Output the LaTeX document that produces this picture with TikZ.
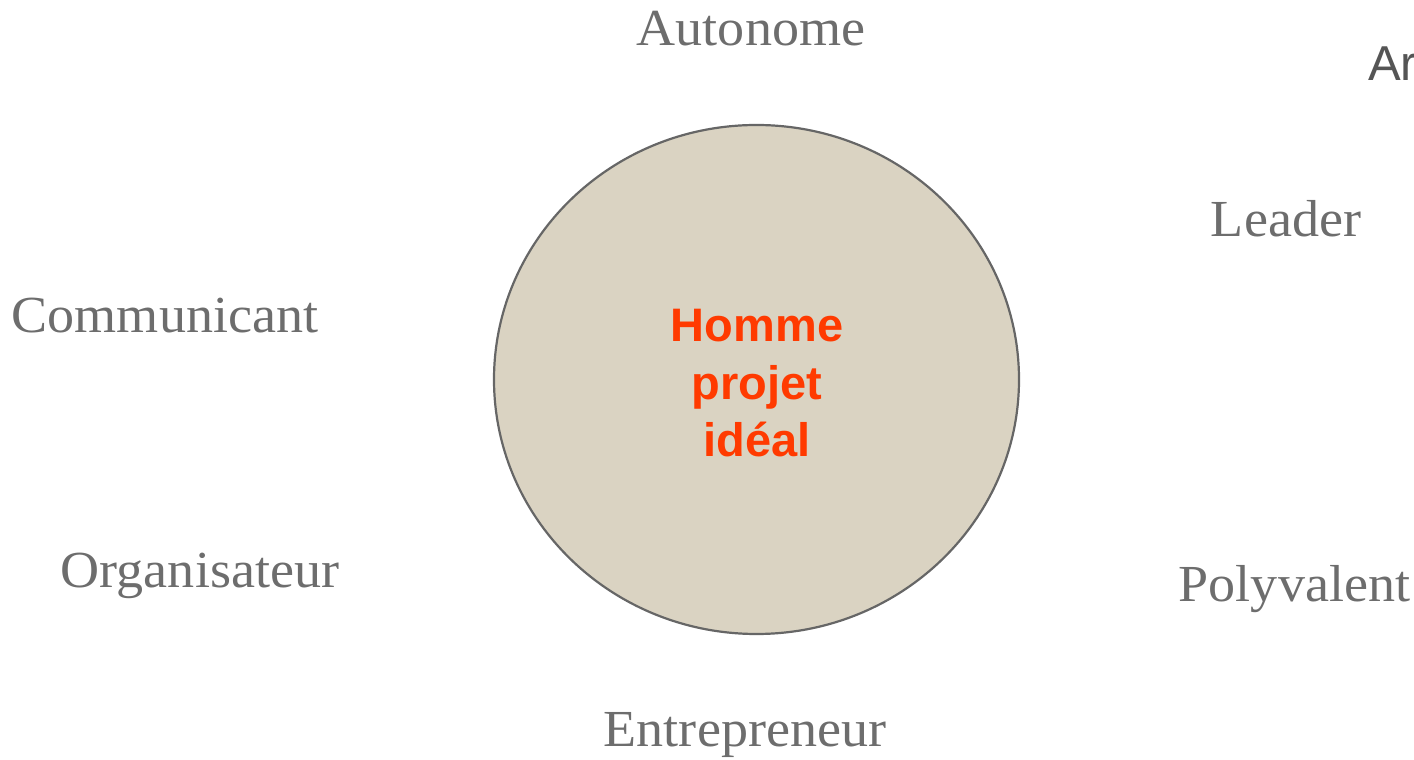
\documentclass[tikz,border=0pt]{standalone}
\usepackage{fontspec}
\setmainfont{Liberation Serif}
\newfontfamily\labelsans{Liberation Sans}
\definecolor{labelgray}{HTML}{6D6D6D}
\definecolor{sidegray}{HTML}{555555}
\definecolor{discfill}{HTML}{DAD3C2}
\definecolor{discline}{HTML}{666666}
\definecolor{corered}{HTML}{FF3A00}
% slightly wider setting of the serif labels
\newcommand{\widelabel}[1]{\scalebox{1.04}[1]{#1}}
\begin{document}
\begin{tikzpicture}[x=1pt,y=1pt,
  trait/.style={anchor=base, inner sep=0pt, text=labelgray,
    font=\fontsize{52}{60}\selectfont},
  coretext/.style={anchor=base, inner sep=0pt, align=center, text=corered,
    font=\labelsans\bfseries\fontsize{47}{57.5}\selectfont}]
\useasboundingbox (0,0) rectangle (1414,760);
% central disc
\draw[discline, line width=2.2pt, fill=discfill] (756.5,380.5) ellipse [x radius=262.5, y radius=254.5];
\node[coretext] (core) at (757,303) {Homme\\projet\\idéal};
% qualities around the disc
\node[trait] (autonome) at (751,714) {\widelabel{Autonome}};
\node[trait] (leader) at (1286,523) {\widelabel{Leader}};
\node[trait] (communicant) at (165,427) {\widelabel{Communicant}};
\node[trait] (organisateur) at (200,172) {\widelabel{Organisateur}};
\node[trait] (polyvalent) at (1294.5,158) {\widelabel{Polyvalent}};
\node[trait] (entrepreneur) at (745,13) {\widelabel{Entrepreneur}};
\node[anchor=base west, inner sep=0pt, text=sidegray,
  font=\labelsans\fontsize{49}{58}\selectfont] (side) at (1368,679) {Ar};
\end{tikzpicture}
\end{document}
